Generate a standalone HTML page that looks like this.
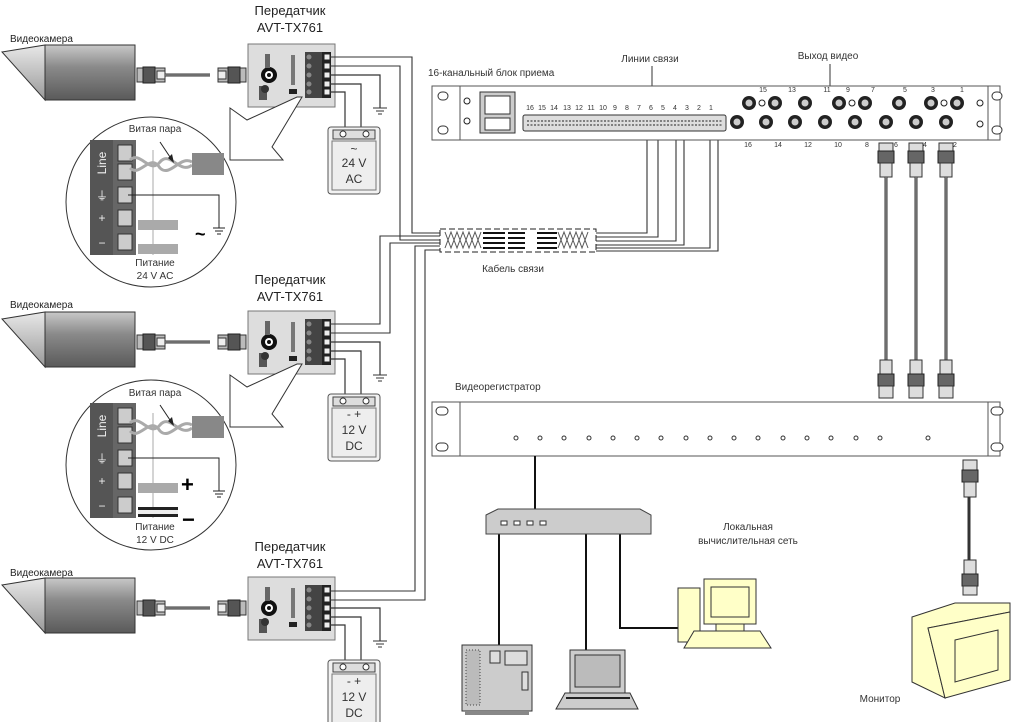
<!DOCTYPE html>
<html><head><meta charset="utf-8"><style>
html,body{margin:0;padding:0;background:#fff;}
svg{display:block;font-family:"Liberation Sans",sans-serif;}
</style></head><body>
<svg width="1024" height="722" viewBox="0 0 1024 722" xmlns="http://www.w3.org/2000/svg">
<defs>
<linearGradient id="cam" x1="0" y1="0" x2="0" y2="1"><stop offset="0" stop-color="#c8c8c8"/><stop offset="0.4" stop-color="#8a8a8a"/><stop offset="1" stop-color="#5a5a5a"/></linearGradient>
<linearGradient id="camt" x1="0" y1="0" x2="0" y2="1"><stop offset="0" stop-color="#e8e8e8"/><stop offset="1" stop-color="#999"/></linearGradient>
<g id="conn">
<rect x="0" y="-7" width="28" height="14" fill="#bbb" stroke="#333"/>
<rect x="6" y="-8" width="12" height="16" fill="#555" stroke="#222"/>
<rect x="20" y="-4" width="8" height="8" fill="#eee" stroke="#333"/>
</g>
<g id="tx">
<polygon points="2,52 45,45 45,100" fill="url(#camt)" stroke="#333"/>
<rect x="45" y="45" width="90" height="55" fill="url(#cam)" stroke="#333"/>
<use href="#conn" x="137" y="75"/>
<line x1="165" y1="75" x2="210" y2="75" stroke="#333" stroke-width="3"/>
<line x1="165" y1="75" x2="210" y2="75" stroke="#aaa" stroke-width="1"/>
<g transform="translate(246,0) scale(-1,1)"><use href="#conn" x="0" y="75"/></g>
<rect x="248" y="44" width="87" height="63" fill="#ddd" stroke="#777"/>
<circle cx="269" cy="75" r="8" fill="#111"/><circle cx="269" cy="75" r="4" fill="#fff"/><circle cx="269" cy="75" r="2" fill="#111"/>
<rect x="265" y="54" width="5" height="14" fill="#666"/>
<rect x="259" y="86" width="8" height="14" fill="#555"/>
<circle cx="265" cy="89" r="4" fill="#333"/>
<rect x="291" y="55" width="4" height="30" fill="#777"/>
<rect x="289" y="89" width="8" height="5" fill="#222"/>
<rect x="305" y="52" width="17" height="46" fill="#444"/>
<rect x="322" y="52" width="9" height="46" fill="#222"/>
<g fill="#eee" stroke="#222"><rect x="324" y="54" width="6" height="6"/><rect x="324" y="63" width="6" height="6"/><rect x="324" y="72" width="6" height="6"/><rect x="324" y="81" width="6" height="6"/><rect x="324" y="89" width="6" height="6"/></g>
<g fill="#888"><circle cx="309" cy="57" r="2.5"/><circle cx="309" cy="66" r="2.5"/><circle cx="309" cy="75" r="2.5"/><circle cx="309" cy="84" r="2.5"/><circle cx="309" cy="92" r="2.5"/></g>
<g fill="none" stroke="#333" stroke-width="1.2">
<polyline points="330,75 380,75 380,108"/>
<polyline points="330,84 361,84 361,130"/>
<polyline points="330,92 345,92 345,130"/>
</g>
<line x1="373" y1="108" x2="387" y2="108" stroke="#333"/><line x1="376" y1="111" x2="384" y2="111" stroke="#333"/><line x1="378" y1="114" x2="382" y2="114" stroke="#333"/>
<rect x="328" y="127" width="52" height="67" rx="3" fill="#f2f2f2" stroke="#555"/>
<rect x="333" y="130" width="42" height="9" fill="#ddd" stroke="#444"/>
<circle cx="343" cy="134" r="3" fill="#fff" stroke="#333"/><circle cx="366" cy="134" r="3" fill="#fff" stroke="#333"/>
<rect x="332" y="141" width="44" height="49" fill="#eee" stroke="#777"/>
</g>
<g id="circ">
<circle cx="151" cy="202" r="85" fill="#fff" stroke="#333"/>
<rect x="90" y="140" width="23" height="115" fill="#555"/>
<rect x="113" y="140" width="23" height="115" fill="#666"/>
<g fill="#ccc" stroke="#333"><rect x="118" y="145" width="14" height="16"/><rect x="118" y="164" width="14" height="16"/><rect x="118" y="187" width="14" height="16"/><rect x="118" y="210" width="14" height="16"/><rect x="118" y="234" width="14" height="16"/></g>
<line x1="153" y1="150" x2="153" y2="255" stroke="#aaa"/>
<path d="M130,160 C140,150 150,175 160,162 C170,150 180,175 192,165 M130,168 C140,178 150,152 160,168 C170,178 180,155 192,162" fill="none" stroke="#aaa" stroke-width="3"/>
<rect x="192" y="153" width="32" height="22" fill="#888"/>
<line x1="160" y1="142" x2="172" y2="160" stroke="#222"/><polygon points="168,158 174,163 172,154" fill="#222"/>
<polyline points="128,195 219,195 219,228" fill="none" stroke="#222"/>
<line x1="213" y1="228" x2="225" y2="228" stroke="#222"/><line x1="215" y1="231" x2="223" y2="231" stroke="#222"/><line x1="217" y1="234" x2="221" y2="234" stroke="#222"/>
<rect x="138" y="220" width="40" height="10" fill="#aaa"/>
</g>
</defs>

<use href="#tx"/>
<use href="#tx" y="267"/>
<use href="#tx" y="533"/>

<polygon points="230,108 247,120 297,97 302,97 272,147 283,160 230,160" fill="#fff" stroke="#333"/>
<polygon points="230,375 247,387 297,364 302,364 272,414 283,427 230,427" fill="#fff" stroke="#333"/>
<use href="#circ"/>
<rect x="138" y="244" width="40" height="10" fill="#aaa"/>
<use href="#circ" y="263"/>
<rect x="138" y="507" width="40" height="10" fill="#222"/><rect x="138" y="510" width="40" height="4" fill="#eee"/>

<g font-size="10" fill="#222">
<text x="10" y="42">Видеокамера</text>
<text x="10" y="308">Видеокамера</text>
<text x="10" y="576">Видеокамера</text>
</g>
<g font-size="13" fill="#222" text-anchor="middle">
<text x="290" y="15">Передатчик</text><text x="290" y="32">AVT-TX761</text>
<text x="290" y="284">Передатчик</text><text x="290" y="301">AVT-TX761</text>
<text x="290" y="551">Передатчик</text><text x="290" y="568">AVT-TX761</text>
</g>
<g font-size="12" fill="#333" text-anchor="middle">
<text x="354" y="153">~</text><text x="354" y="167">24 V</text><text x="354" y="183">AC</text>
<text x="354" y="418">-  +</text><text x="354" y="434">12 V</text><text x="354" y="450">DC</text>
<text x="354" y="685">-  +</text><text x="354" y="701">12 V</text><text x="354" y="717">DC</text>
</g>
<g font-size="10" fill="#333" text-anchor="middle">
<text x="155" y="132">Витая пара</text><text x="155" y="266">Питание</text><text x="155" y="279">24 V AC</text>
<text x="155" y="396">Витая пара</text><text x="155" y="530">Питание</text><text x="155" y="543">12 V DC</text>
</g>
<g fill="#eee" font-size="12" text-anchor="middle">
<text transform="translate(106,163) rotate(-90)">Line</text>
<text x="102" y="200">⏚</text><text x="102" y="222">+</text><text x="102" y="247">−</text>
<text transform="translate(106,426) rotate(-90)">Line</text>
<text x="102" y="463">⏚</text><text x="102" y="485">+</text><text x="102" y="510">−</text>
</g>
<text x="195" y="240" font-size="18" font-weight="bold">~</text>
<text x="181" y="492" font-size="22" font-weight="bold">+</text>
<text x="182" y="527" font-size="22" font-weight="bold">−</text>

<g fill="none" stroke="#333" stroke-width="1.1">
<polyline points="330,57 412,57 412,233 440,233"/>
<polyline points="330,66 400,66 400,240 440,240"/>
<polyline points="330,324 380,324 380,236 440,236"/>
<polyline points="330,333 390,333 390,243 440,243"/>
<polyline points="330,591 415,591 415,246 440,246"/>
<polyline points="330,600 425,600 425,250 440,250"/>
<polyline points="596,233 647,233 647,128"/>
<polyline points="596,237 658,237 658,128"/>
<polyline points="596,241 676,241 676,128"/>
<polyline points="596,245 684,245 684,128"/>
<polyline points="596,248 710,248 710,128"/>
<polyline points="596,251 718,251 718,128"/>
</g>
<rect x="440" y="229" width="156" height="23" fill="#fff" stroke="#222" stroke-dasharray="6,3"/>
<g stroke="#555" stroke-width="1"><path d="M445,232 l6,16 l6,-16 l6,16 l6,-16 l6,16 l6,-16 M445,248 l6,-16 l6,16 l6,-16 l6,16 l6,-16 l6,16" fill="none"/>
<path d="M558,232 l6,16 l6,-16 l6,16 l6,-16 l6,16 M558,248 l6,-16 l6,16 l6,-16 l6,16 l6,-16" fill="none"/></g>
<g stroke="#111" stroke-width="2"><line x1="483" y1="233" x2="505" y2="233"/><line x1="483" y1="238" x2="505" y2="238"/><line x1="483" y1="243" x2="505" y2="243"/><line x1="483" y1="248" x2="505" y2="248"/>
<line x1="508" y1="233" x2="525" y2="233"/><line x1="508" y1="238" x2="525" y2="238"/><line x1="508" y1="243" x2="525" y2="243"/><line x1="508" y1="248" x2="525" y2="248"/>
<line x1="537" y1="233" x2="557" y2="233"/><line x1="537" y1="238" x2="557" y2="238"/><line x1="537" y1="243" x2="557" y2="243"/><line x1="537" y1="248" x2="557" y2="248"/></g>
<text x="513" y="272" font-size="10" text-anchor="middle" fill="#333">Кабель связи</text>

<text x="428" y="76" font-size="10" fill="#333">16-канальный блок приема</text>
<text x="650" y="62" font-size="10" fill="#333" text-anchor="middle">Линии связи</text>
<text x="828" y="59" font-size="10" fill="#333" text-anchor="middle">Выход видео</text>
<line x1="652" y1="66" x2="652" y2="104" stroke="#333"/><line x1="830" y1="64" x2="830" y2="92" stroke="#333"/>
<rect x="432" y="86" width="568" height="54" fill="#fff" stroke="#555"/>
<line x1="460" y1="86" x2="460" y2="140" stroke="#555"/><line x1="988" y1="86" x2="988" y2="140" stroke="#555"/>
<g fill="#fff" stroke="#333"><rect x="438" y="92" width="10" height="8" rx="4"/><rect x="438" y="126" width="10" height="8" rx="4"/><rect x="992" y="92" width="10" height="8" rx="4"/><rect x="992" y="126" width="10" height="8" rx="4"/></g>
<g fill="#fff" stroke="#222"><circle cx="467" cy="101" r="3"/><circle cx="467" cy="121" r="3"/><circle cx="980" cy="103" r="3"/><circle cx="980" cy="124" r="3"/><circle cx="762" cy="103" r="3"/><circle cx="852" cy="103" r="3"/><circle cx="944" cy="103" r="3"/></g>
<rect x="480" y="92" width="35" height="41" fill="#ccc" stroke="#333"/>
<rect x="485" y="96" width="25" height="18" fill="#fff" stroke="#333"/>
<rect x="485" y="118" width="25" height="12" fill="#fff" stroke="#333"/>
<rect x="523" y="115" width="203" height="16" rx="2" fill="#ddd" stroke="#333"/>
<g stroke="#222" stroke-width="1" stroke-dasharray="2,1.5"><line x1="527" y1="121" x2="722" y2="121"/><line x1="527" y1="125" x2="722" y2="125"/></g>
<g font-size="7" fill="#333" text-anchor="middle">
<text x="530" y="110">16</text><text x="542" y="110">15</text><text x="554" y="110">14</text><text x="567" y="110">13</text><text x="579" y="110">12</text><text x="591" y="110">11</text><text x="603" y="110">10</text><text x="615" y="110">9</text><text x="627" y="110">8</text><text x="639" y="110">7</text><text x="651" y="110">6</text><text x="663" y="110">5</text><text x="675" y="110">4</text><text x="687" y="110">3</text><text x="699" y="110">2</text><text x="711" y="110">1</text>
<text x="763" y="92">15</text><text x="792" y="92">13</text><text x="827" y="92">11</text><text x="848" y="92">9</text><text x="873" y="92">7</text><text x="905" y="92">5</text><text x="933" y="92">3</text><text x="962" y="92">1</text>
<text x="748" y="147">16</text><text x="778" y="147">14</text><text x="808" y="147">12</text><text x="838" y="147">10</text><text x="867" y="147">8</text><text x="896" y="147">6</text><text x="925" y="147">4</text><text x="955" y="147">2</text>
</g>
<g fill="#222"><circle cx="749" cy="103" r="7"/><circle cx="775" cy="103" r="7"/><circle cx="805" cy="103" r="7"/><circle cx="839" cy="103" r="7"/><circle cx="865" cy="103" r="7"/><circle cx="899" cy="103" r="7"/><circle cx="931" cy="103" r="7"/><circle cx="957" cy="103" r="7"/>
<circle cx="737" cy="122" r="7"/><circle cx="766" cy="122" r="7"/><circle cx="795" cy="122" r="7"/><circle cx="825" cy="122" r="7"/><circle cx="855" cy="122" r="7"/><circle cx="886" cy="122" r="7"/><circle cx="916" cy="122" r="7"/><circle cx="946" cy="122" r="7"/></g>
<g fill="#ccc"><circle cx="749" cy="103" r="3.5"/><circle cx="775" cy="103" r="3.5"/><circle cx="805" cy="103" r="3.5"/><circle cx="839" cy="103" r="3.5"/><circle cx="865" cy="103" r="3.5"/><circle cx="899" cy="103" r="3.5"/><circle cx="931" cy="103" r="3.5"/><circle cx="957" cy="103" r="3.5"/>
<circle cx="737" cy="122" r="3.5"/><circle cx="766" cy="122" r="3.5"/><circle cx="795" cy="122" r="3.5"/><circle cx="825" cy="122" r="3.5"/><circle cx="855" cy="122" r="3.5"/><circle cx="886" cy="122" r="3.5"/><circle cx="916" cy="122" r="3.5"/><circle cx="946" cy="122" r="3.5"/></g>

<g id="bnc">
<rect x="879" y="143" width="14" height="8" fill="#ddd" stroke="#333"/>
<rect x="878" y="151" width="16" height="12" fill="#666" stroke="#222"/>
<rect x="880" y="163" width="12" height="14" fill="#ddd" stroke="#333"/>
<line x1="886" y1="177" x2="886" y2="360" stroke="#333" stroke-width="3"/>
<line x1="886" y1="177" x2="886" y2="360" stroke="#aaa" stroke-width="1"/>
<rect x="880" y="360" width="12" height="14" fill="#ddd" stroke="#333"/>
<rect x="878" y="374" width="16" height="12" fill="#666" stroke="#222"/>
<rect x="879" y="386" width="14" height="12" fill="#ddd" stroke="#333"/>
</g>
<use href="#bnc" x="30"/><use href="#bnc" x="60"/>

<text x="455" y="390" font-size="10" fill="#333">Видеорегистратор</text>
<rect x="432" y="402" width="568" height="54" fill="#fff" stroke="#555"/>
<line x1="460" y1="402" x2="460" y2="456" stroke="#555"/><line x1="988" y1="402" x2="988" y2="456" stroke="#555"/>
<g fill="#fff" stroke="#333"><rect x="436" y="407" width="12" height="8" rx="4"/><rect x="436" y="443" width="12" height="8" rx="4"/><rect x="991" y="407" width="12" height="8" rx="4"/><rect x="991" y="443" width="12" height="8" rx="4"/></g>
<g fill="none" stroke="#333"><circle cx="516" cy="438" r="2"/><circle cx="540" cy="438" r="2"/><circle cx="564" cy="438" r="2"/><circle cx="589" cy="438" r="2"/><circle cx="613" cy="438" r="2"/><circle cx="637" cy="438" r="2"/><circle cx="661" cy="438" r="2"/><circle cx="686" cy="438" r="2"/><circle cx="710" cy="438" r="2"/><circle cx="734" cy="438" r="2"/><circle cx="758" cy="438" r="2"/><circle cx="783" cy="438" r="2"/><circle cx="807" cy="438" r="2"/><circle cx="831" cy="438" r="2"/><circle cx="856" cy="438" r="2"/><circle cx="880" cy="438" r="2"/><circle cx="928" cy="438" r="2"/></g>

<g fill="none" stroke="#111" stroke-width="2">
<line x1="535" y1="456" x2="535" y2="510"/>
<line x1="499" y1="534" x2="499" y2="645"/>
<line x1="586" y1="534" x2="586" y2="650"/>
<polyline points="620,534 620,628 679,628"/>
</g>
<polygon points="486,515 498,509 640,509 651,515 651,534 486,534" fill="#ccc" stroke="#444"/>
<g fill="#fff" stroke="#333"><rect x="501" y="521" width="6" height="4"/><rect x="514" y="521" width="6" height="4"/><rect x="527" y="521" width="6" height="4"/><rect x="540" y="521" width="6" height="4"/></g>
<text x="748" y="530" font-size="10" fill="#333" text-anchor="middle">Локальная</text>
<text x="748" y="544" font-size="10" fill="#333" text-anchor="middle">вычислительная сеть</text>
<rect x="462" y="645" width="70" height="66" fill="#ccc" stroke="#333"/>
<rect x="466" y="650" width="14" height="55" fill="#bbb" stroke="#444" stroke-dasharray="1,2"/>
<rect x="490" y="651" width="10" height="12" fill="#ddd" stroke="#333"/><rect x="505" y="651" width="22" height="14" fill="#ddd" stroke="#333"/>
<rect x="522" y="672" width="6" height="18" fill="#ddd" stroke="#333"/>
<rect x="465" y="711" width="64" height="4" fill="#888"/>
<rect x="570" y="650" width="55" height="43" fill="#ccc" stroke="#333"/>
<rect x="575" y="655" width="45" height="32" fill="#bbb" stroke="#333"/>
<polygon points="565,693 630,693 638,709 556,709" fill="#ccc" stroke="#333"/>
<line x1="566" y1="698" x2="630" y2="698" stroke="#222" stroke-width="2"/>
<rect x="678" y="588" width="22" height="54" fill="#ffffc8" stroke="#333"/>
<rect x="704" y="579" width="52" height="45" fill="#ffffc8" stroke="#333"/>
<rect x="711" y="587" width="38" height="30" fill="#ffffc8" stroke="#333"/>
<rect x="716" y="624" width="28" height="7" fill="#ffffc8" stroke="#333"/>
<polygon points="694,631 760,631 771,648 684,648" fill="#ffffc8" stroke="#333"/>
<rect x="963" y="460" width="14" height="10" fill="#ddd" stroke="#333"/>
<rect x="962" y="470" width="16" height="12" fill="#666" stroke="#222"/>
<rect x="964" y="482" width="12" height="15" fill="#ddd" stroke="#333"/>
<line x1="969" y1="497" x2="969" y2="560" stroke="#333" stroke-width="3"/>
<rect x="964" y="560" width="12" height="14" fill="#ddd" stroke="#333"/>
<rect x="962" y="574" width="16" height="12" fill="#666" stroke="#222"/>
<rect x="963" y="586" width="14" height="9" fill="#ddd" stroke="#333"/>
<polygon points="912,617 955,603 1010,603 1010,612 928,628 945,698 912,682" fill="#ffffc8" stroke="#333"/>
<polygon points="928,628 1010,612 1010,680 945,698" fill="#ffffc8" stroke="#333"/>
<polygon points="955,640 998,630 998,670 955,682" fill="#ffffc8" stroke="#333"/>
<text x="880" y="702" font-size="10" fill="#333" text-anchor="middle">Монитор</text>
</svg>
</body></html>
